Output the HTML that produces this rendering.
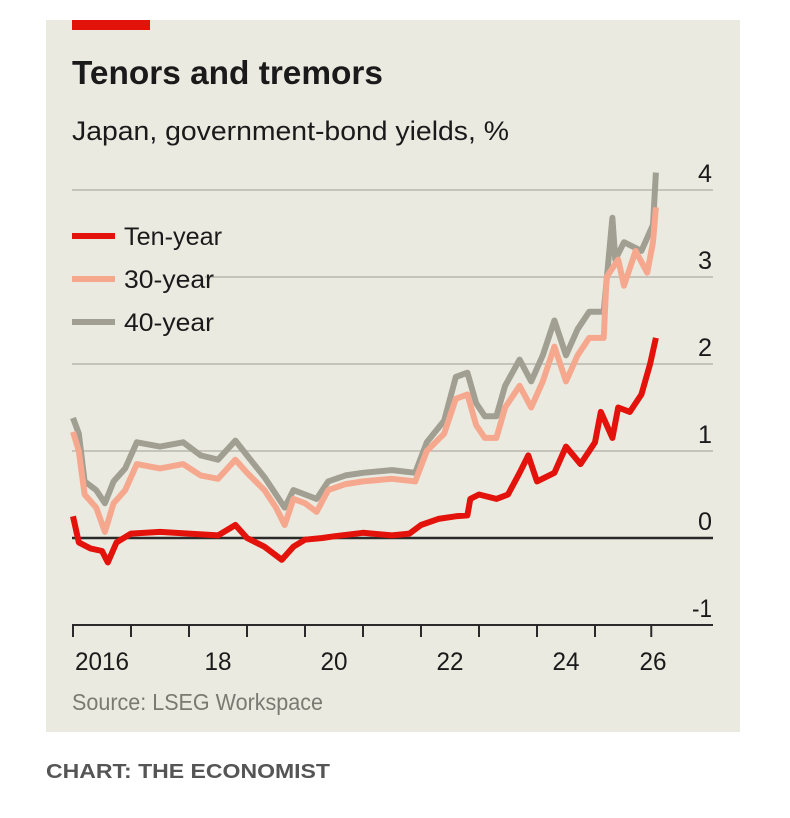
<!DOCTYPE html>
<html><head><meta charset="utf-8">
<style>
body{margin:0;background:#fff;}
svg{display:block;font-family:"Liberation Sans",sans-serif;}
</style></head>
<body>
<svg id="chart" width="790" height="818" viewBox="0 0 790 818">
<rect x="46" y="20" width="694" height="712" fill="#ebeae0"/>
<rect x="72" y="20" width="78" height="10" fill="#e3120b"/>
<text x="72" y="84" font-size="33" font-weight="bold" fill="#1a1a1a" textLength="311" lengthAdjust="spacingAndGlyphs">Tenors and tremors</text>
<text x="72" y="140" font-size="27" fill="#1a1a1a" textLength="437" lengthAdjust="spacingAndGlyphs">Japan, government-bond yields, %</text>
<g id="grid"></g>
<g id="series"></g>
<g id="xaxis"></g>
<g>
<g><line x1="72" x2="115" y1="236" y2="236" stroke="#e3120b" stroke-width="6"/><text x="124" y="245" font-size="25" fill="#1a1a1a" textLength="98" lengthAdjust="spacingAndGlyphs">Ten-year</text></g>
<g><line x1="72" x2="115" y1="279" y2="279" stroke="#f6a88f" stroke-width="6"/><text x="124" y="288" font-size="25" fill="#1a1a1a" textLength="90" lengthAdjust="spacingAndGlyphs">30-year</text></g>
<g><line x1="72" x2="115" y1="322" y2="322" stroke="#a09f92" stroke-width="6"/><text x="124" y="331" font-size="25" fill="#1a1a1a" textLength="90" lengthAdjust="spacingAndGlyphs">40-year</text></g>
</g>
<text x="72" y="710" font-size="23" fill="#7a7a72" textLength="251" lengthAdjust="spacingAndGlyphs">Source: LSEG Workspace</text>
<text x="46" y="778" font-size="20" font-weight="bold" fill="#555" textLength="284" lengthAdjust="spacingAndGlyphs">CHART: THE ECONOMIST</text>
</svg>
<script>
const yTicks = [4, 3, 2, 1, 0, -1];
const xTickYears = [2016,2017,2018,2019,2020,2021,2022,2023,2024,2025,2026];
const xLabels = ["2016","18","20","22","24","26"];
const xLabelYears = [2016.5,2018.5,2020.5,2022.5,2024.5,2026];

const tenDates = [2016.0,2016.05,2016.1,2016.3,2016.5,2016.6,2016.75,2017.0,2017.5,2018.0,2018.5,2018.8,2019.0,2019.3,2019.6,2019.8,2020.0,2020.3,2020.5,2021.0,2021.5,2021.8,2022.0,2022.3,2022.6,2022.8,2022.85,2023.0,2023.3,2023.5,2023.7,2023.85,2024.0,2024.3,2024.5,2024.75,2025.0,2025.1,2025.3,2025.4,2025.6,2025.8,2025.95,2026.05];
const tenValues = [0.25,0.1,-0.05,-0.12,-0.15,-0.28,-0.05,0.05,0.07,0.05,0.03,0.15,0.0,-0.1,-0.25,-0.1,-0.02,0.0,0.02,0.06,0.03,0.05,0.15,0.22,0.25,0.26,0.45,0.5,0.45,0.5,0.75,0.95,0.65,0.75,1.05,0.85,1.1,1.45,1.15,1.5,1.45,1.65,2.0,2.3];

const d30Dates = [2016.0,2016.1,2016.2,2016.4,2016.55,2016.7,2016.9,2017.1,2017.5,2017.9,2018.2,2018.5,2018.8,2019.0,2019.3,2019.5,2019.65,2019.8,2020.0,2020.2,2020.4,2020.7,2021.0,2021.5,2021.9,2022.1,2022.4,2022.6,2022.8,2022.95,2023.1,2023.3,2023.45,2023.7,2023.9,2024.1,2024.3,2024.5,2024.7,2024.9,2025.15,2025.2,2025.4,2025.5,2025.7,2025.9,2026.0,2026.05];
const d30Values = [1.22,1.0,0.5,0.35,0.07,0.4,0.55,0.85,0.8,0.85,0.72,0.68,0.9,0.75,0.55,0.35,0.15,0.45,0.4,0.3,0.55,0.62,0.65,0.68,0.65,1.0,1.2,1.6,1.65,1.3,1.15,1.15,1.5,1.75,1.5,1.8,2.2,1.8,2.1,2.3,2.3,3.0,3.2,2.9,3.3,3.05,3.4,3.8];

const d40Dates = [2016.0,2016.1,2016.2,2016.4,2016.55,2016.7,2016.9,2017.1,2017.5,2017.9,2018.2,2018.5,2018.8,2019.0,2019.3,2019.5,2019.65,2019.8,2020.0,2020.2,2020.4,2020.7,2021.0,2021.5,2021.9,2022.1,2022.4,2022.6,2022.8,2022.95,2023.1,2023.3,2023.45,2023.7,2023.9,2024.1,2024.3,2024.5,2024.7,2024.9,2025.15,2025.3,2025.35,2025.5,2025.8,2026.0,2026.05];
const d40Values = [1.38,1.2,0.65,0.55,0.4,0.65,0.8,1.1,1.05,1.1,0.95,0.9,1.12,0.95,0.7,0.5,0.35,0.55,0.5,0.45,0.65,0.72,0.75,0.78,0.75,1.1,1.35,1.85,1.9,1.55,1.4,1.4,1.75,2.05,1.8,2.1,2.5,2.1,2.4,2.6,2.6,3.68,3.2,3.4,3.3,3.6,4.2];

const NS = "http://www.w3.org/2000/svg";
function xScale(yr){ return 73 + (yr - 2016) * 58; }
function yScale(v){ return 538 - v * 87; }

const grid = document.getElementById('grid');
yTicks.forEach(function(t){
  const y = yScale(t);
  if (t > -1) {
    const ln = document.createElementNS(NS,'line');
    
    
    ln.setAttribute('x1', t === 3 ? 205 : 72);
    ln.setAttribute('x2', 713);
    ln.setAttribute('y1', y); ln.setAttribute('y2', y);
    ln.setAttribute('stroke', t === 0 ? '#2a2a2a' : '#b9b8ae');
    ln.setAttribute('stroke-width', t === 0 ? 2.5 : 1.5);
    grid.appendChild(ln);
  }
  const tx = document.createElementNS(NS,'text');
  
  
  tx.setAttribute('x', 712); tx.setAttribute('y', y - 8);
  tx.setAttribute('text-anchor', 'end');
  tx.setAttribute('font-size', '25');
  tx.setAttribute('fill', '#1a1a1a');
  tx.setAttribute('textLength', t < 0 ? 20 : 14);
  tx.setAttribute('lengthAdjust', 'spacingAndGlyphs');
  tx.textContent = t;
  grid.appendChild(tx);
});

const xa = document.getElementById('xaxis');
const ax = document.createElementNS(NS,'line');


ax.setAttribute('x1', 72); ax.setAttribute('x2', 713);
ax.setAttribute('y1', yScale(-1)); ax.setAttribute('y2', yScale(-1));
ax.setAttribute('stroke', '#2a2a2a'); ax.setAttribute('stroke-width', 2);
xa.appendChild(ax);
xTickYears.forEach(function(yr){
  const x = yr === 2026 ? xScale(2025.97) : xScale(yr);
  const tk = document.createElementNS(NS,'line');
  
  
  tk.setAttribute('x1', x); tk.setAttribute('x2', x);
  tk.setAttribute('y1', yScale(-1)); tk.setAttribute('y2', yScale(-1) + 12);
  tk.setAttribute('stroke', '#2a2a2a'); tk.setAttribute('stroke-width', 2);
  xa.appendChild(tk);
});
xLabels.forEach(function(lb, i){
  const tx = document.createElementNS(NS,'text');
  
  
  tx.setAttribute('x', xScale(xLabelYears[i]));
  tx.setAttribute('y', 670);
  tx.setAttribute('text-anchor', 'middle');
  tx.setAttribute('font-size', '25');
  tx.setAttribute('fill', '#1a1a1a');
  tx.setAttribute('textLength', lb.length * 13.5);
  tx.setAttribute('lengthAdjust', 'spacingAndGlyphs');
  tx.textContent = lb;
  xa.appendChild(tx);
});

const sg = document.getElementById('series');
function drawLine(dates, vals, color, name){
  const pts = dates.map(function(d, i){ return xScale(d).toFixed(1) + ',' + yScale(vals[i]).toFixed(1); }).join(' ');
  const pl = document.createElementNS(NS,'polyline');
  
  
  pl.setAttribute('points', pts);
  pl.setAttribute('fill', 'none');
  pl.setAttribute('stroke', color);
  pl.setAttribute('stroke-width', 6);
  pl.setAttribute('stroke-linejoin', 'round');
  sg.appendChild(pl);
}
drawLine(d40Dates, d40Values, '#a09f92', 'line-40-year');
drawLine(d30Dates, d30Values, '#f6a88f', 'line-30-year');
drawLine(tenDates, tenValues, '#e3120b', 'line-ten-year');
</script>
</body></html>
